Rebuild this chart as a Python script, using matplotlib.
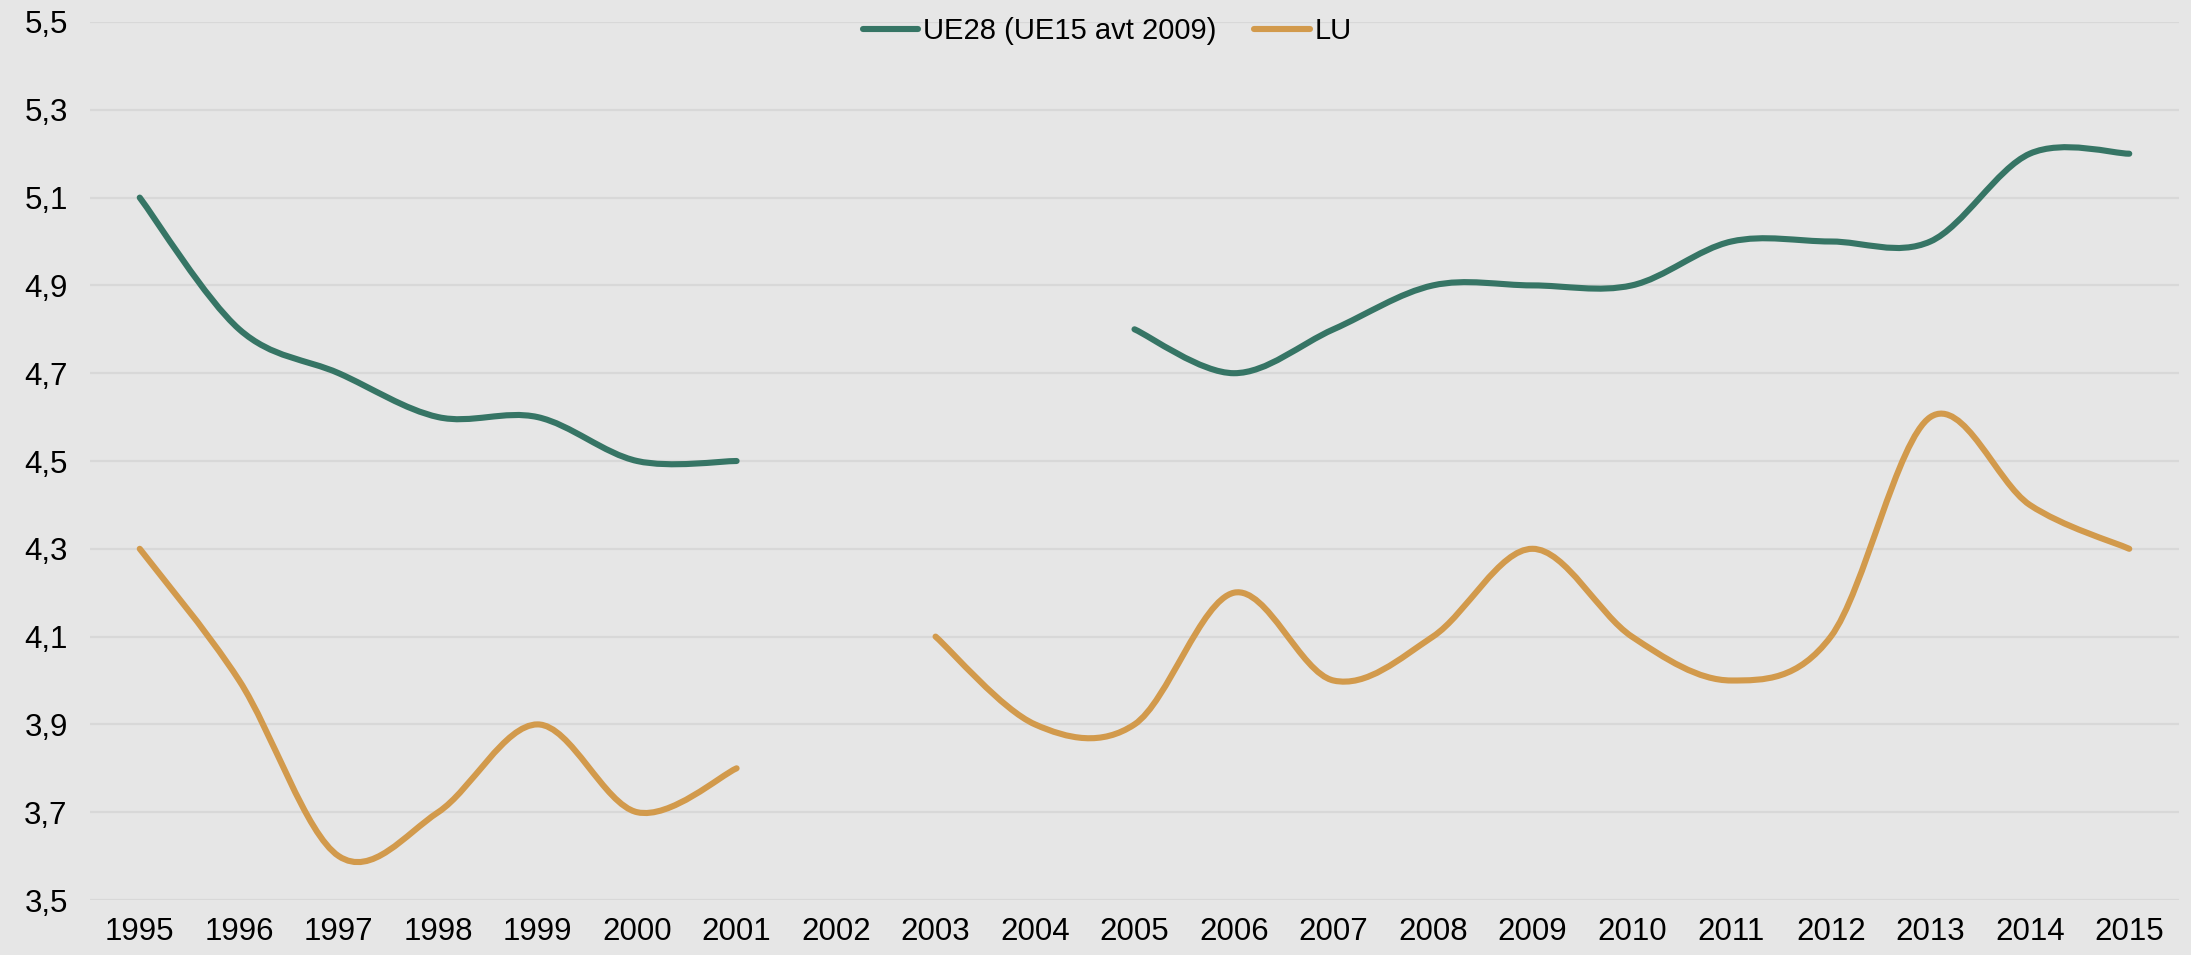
import numpy as np
import matplotlib.pyplot as plt
from matplotlib.path import Path
from matplotlib.patches import PathPatch
from matplotlib.lines import Line2D

plt.rcParams['font.family'] = ['Liberation Sans', 'DejaVu Sans']

# data
years = [str(y) for y in range(1995, 2016)]
ue28 = [5.1, 4.8, 4.7, 4.6, 4.6, 4.5, 4.5, np.nan, np.nan, np.nan,
        4.8, 4.7, 4.8, 4.9, 4.9, 4.9, 5.0, 5.0, 5.0, 5.2, 5.2]
lu = [4.3, 4.0, 3.6, 3.7, 3.9, 3.7, 3.8, np.nan, 4.1, 3.9,
      3.9, 4.2, 4.0, 4.1, 4.3, 4.1, 4.0, 4.1, 4.6, 4.4, 4.3]
yticks = [3.5, 3.7, 3.9, 4.1, 4.3, 4.5, 4.7, 4.9, 5.1, 5.3, 5.5]

green = "#367565"
orange = "#D29A4C"
bg = "#E6E6E6"


def smooth_path(x, y):
    # bezier segments like excel's smoothed line, one run per unbroken stretch
    verts, codes = [], []
    x = np.asarray(x, float)
    y = np.asarray(y, float)
    ok = ~np.isnan(y)
    runs = []
    cur = []
    for i in range(len(y)):
        if ok[i]:
            cur.append(i)
        elif cur:
            runs.append(cur)
            cur = []
    if cur:
        runs.append(cur)
    for r in runs:
        px, py = x[r], y[r]
        n = len(r)
        verts.append((px[0], py[0]))
        codes.append(Path.MOVETO)
        for k in range(n - 1):
            p0 = (px[max(k - 1, 0)], py[max(k - 1, 0)])
            p1 = (px[k], py[k])
            p2 = (px[k + 1], py[k + 1])
            p3 = (px[min(k + 2, n - 1)], py[min(k + 2, n - 1)])
            c1 = (p1[0] + (p2[0] - p0[0]) / 6, p1[1] + (p2[1] - p0[1]) / 6)
            c2 = (p2[0] - (p3[0] - p1[0]) / 6, p2[1] - (p3[1] - p1[1]) / 6)
            verts += [c1, c2, p2]
            codes += [Path.CURVE4] * 3
    return Path(verts, codes)


fig = plt.figure(figsize=(21.91, 9.55), dpi=100, facecolor=bg)
ax = fig.add_axes([90 / 2191, 55 / 955, 2089 / 2191, 878 / 955], facecolor=bg)

xs = np.arange(len(years))
for vals, col in [(ue28, green), (lu, orange)]:
    ax.add_patch(PathPatch(smooth_path(xs, vals), facecolor="none",
                           edgecolor=col, lw=4.4, capstyle="round", joinstyle="round"))

ax.set_xlim(-0.5, len(years) - 0.5)
ax.set_ylim(3.5, 5.5)
ax.set_yticks(yticks)
ax.set_yticklabels([f"{v:.1f}".replace(".", ",") for v in yticks])
ax.set_xticks(xs)
ax.set_xticklabels(years)
ax.tick_params(axis="both", length=0, labelsize=22.5, colors="black")
ax.tick_params(axis="y", pad=16)
ax.tick_params(axis="x", pad=12)
ax.grid(axis="y", color="#D8D8D8", lw=1.6)
ax.set_axisbelow(True)
for s in ax.spines.values():
    s.set_visible(False)

handles = [Line2D([], [], color=green, lw=4.4, solid_capstyle="round"),
           Line2D([], [], color=orange, lw=4.4, solid_capstyle="round")]
ax.legend(handles, ["UE28 (UE15 avt 2009)", "LU"], loc="center",
          bbox_to_anchor=(0.487, 0.99), ncol=2, frameon=False, fontsize=21,
          handlelength=1.9, handletextpad=0.17, columnspacing=1.3)

fig.savefig("out.png", dpi=100, facecolor=bg)
